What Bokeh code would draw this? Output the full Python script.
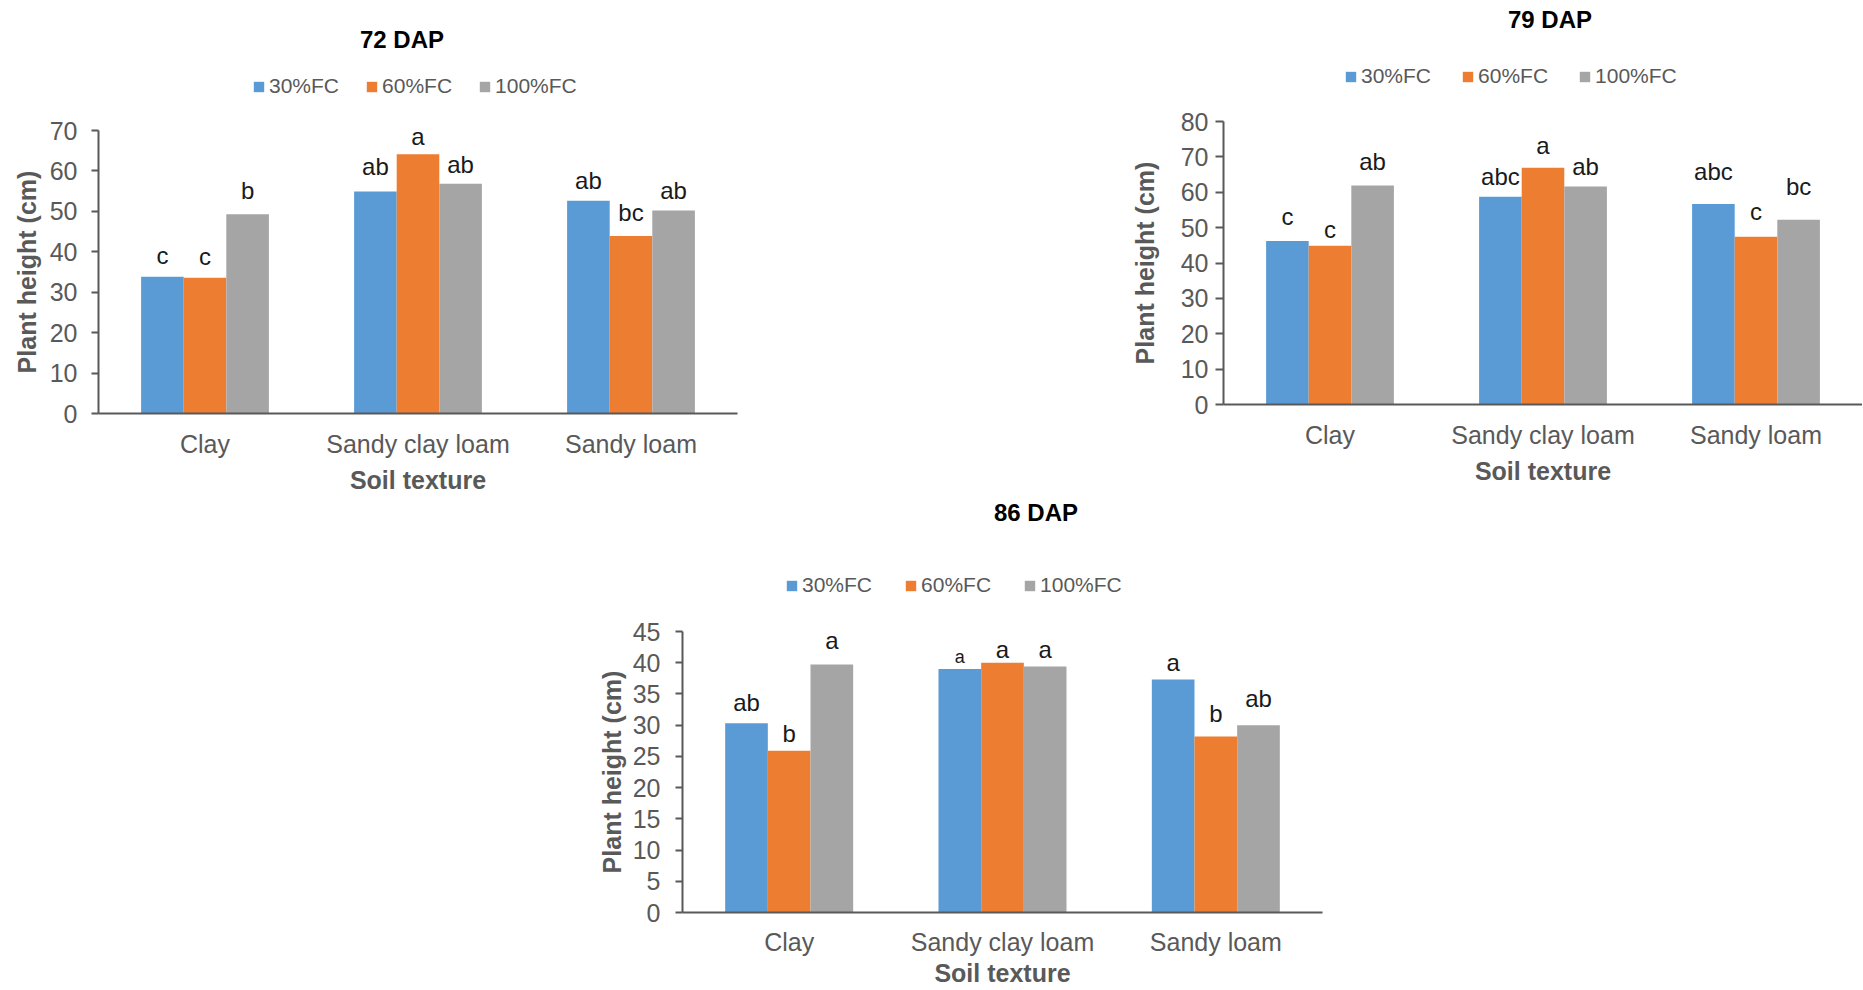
from bokeh.plotting import figure
from bokeh.models import (ColumnDataSource, FactorRange, Range1d, FixedTicker, Legend,
                          LegendItem, LabelSet, Label, Spacer)
from bokeh.core.properties import value
from bokeh.transform import dodge
from bokeh.layouts import row, column
from bokeh.embed import file_html
from bokeh.resources import INLINE

# ---------------- data ----------------
categories = ["Clay", "Sandy clay loam", "Sandy loam"]
treatments = ["30%FC", "60%FC", "100%FC"]

# 72 DAP
dap72_fc30 = [33.8, 54.9, 52.6]
dap72_fc60 = [33.6, 64.1, 43.9]
dap72_fc100 = [49.3, 56.8, 50.2]
dap72_let30 = ["c", "ab", "ab"]
dap72_let60 = ["c", "a", "bc"]
dap72_let100 = ["b", "ab", "ab"]

# 79 DAP
dap79_fc30 = [46.2, 58.7, 56.7]
dap79_fc60 = [44.9, 66.9, 47.4]
dap79_fc100 = [61.9, 61.6, 52.2]
dap79_let30 = ["c", "abc", "abc"]
dap79_let60 = ["c", "a", "c"]
dap79_let100 = ["ab", "ab", "bc"]

# 86 DAP
dap86_fc30 = [30.3, 39.0, 37.3]
dap86_fc60 = [25.9, 40.0, 28.2]
dap86_fc100 = [39.7, 39.4, 30.0]
dap86_let30 = ["ab", "a", "a"]
dap86_let60 = ["b", "a", "b"]
dap86_let100 = ["a", "a", "ab"]

# ---------------- style ----------------
COLORS = ["#5B9BD5", "#ED7D31", "#A5A5A5"]
FONT = "Liberation Sans"
AXIS_GRAY = "#595959"
BAR_W = 0.2

# pixel gap between bar top and letter baseline (per treatment, per category)
GAP72 = [[13, 17, 12], [13, 9, 15], [15, 11, 12]]
GAP79 = [[16, 12, 24], [8, 14, 17], [16, 12, 25]]
GAP86 = [[12, 6, 9], [9, 5, 14], [16, 8, 18]]
# letter font sizes (the reference shows one smaller letter in the 86 DAP chart)
SIZE_DEFAULT = [["24px"] * 3] * 3
SIZE86 = [["24px", "18px", "24px"], ["24px"] * 3, ["24px"] * 3]


def make_header(title, cfg):
    w, h = cfg["hw"], cfg["hh"]
    hp = figure(width=w, height=h, x_range=Range1d(0, w), y_range=Range1d(0, h),
                x_axis_type=None, y_axis_type=None, min_border=0,
                output_backend="svg", toolbar_location=None, tools="")
    hp.frame_align = False
    hp.outline_line_color = None
    hp.xgrid.visible = False
    hp.ygrid.visible = False
    items = []
    for j, t in enumerate(treatments):
        # zero-size proxy glyph: only used to draw the legend swatch
        r = hp.vbar(x=[0], top=[0], width=0, fill_color=COLORS[j], line_color=None)
        items.append(LegendItem(label=t, renderers=[r]))
    leg = Legend(items=items, orientation="horizontal", location=cfg["leg_loc"],
                 glyph_width=13, glyph_height=13, label_standoff=4, label_height=20,
                 spacing=cfg["leg_sp"], padding=0, margin=0,
                 label_text_font=FONT, label_text_font_size="21px",
                 label_text_color=AXIS_GRAY, background_fill_alpha=0,
                 border_line_alpha=0)
    hp.add_layout(leg, "center")
    tx, ty = cfg["title_xy"]
    hp.add_layout(Label(x=tx, y=ty, text=title, text_align="center",
                        text_baseline="middle", text_font=FONT, text_font_style="bold",
                        text_font_size="24px", text_color="#000000"))
    return hp


def make_chart(series, letters, ymax, ystep, gaps, sizes, cfg):
    p = figure(x_range=FactorRange(factors=categories, range_padding=0),
               y_range=Range1d(0, ymax),
               frame_width=cfg["fw"], frame_height=cfg["fh"],
               min_border_left=cfg["bl"], min_border_right=cfg["br"],
               min_border_top=cfg["bt"], min_border_bottom=cfg["bb"],
               output_backend="svg", toolbar_location=None, tools="")
    p.frame_align = False
    p.outline_line_color = None
    p.background_fill_color = "white"
    p.border_fill_color = "white"
    p.xgrid.visible = False
    p.ygrid.visible = False

    n = len(treatments)
    for j, t in enumerate(treatments):
        off = (j - (n - 1) / 2) * BAR_W
        src = ColumnDataSource(dict(cat=categories, val=series[j], lab=letters[j],
                                    gap=gaps[j], fs=sizes[j]))
        p.vbar(x=dodge("cat", off, range=p.x_range), top="val", width=BAR_W,
               source=src, fill_color=COLORS[j], line_color=None)
        ls = LabelSet(x=dodge("cat", off, range=p.x_range), y="val", text="lab",
                      source=src, text_align="center", text_baseline="alphabetic",
                      y_offset="gap", text_font=value(FONT),
                      text_font_size="fs", text_color="#1a1a1a",
                      level="overlay")
        p.add_layout(ls)

    xa = p.xaxis[0]
    xa.axis_label = "Soil texture"
    xa.axis_label_text_font = FONT
    xa.axis_label_text_font_style = "bold"
    xa.axis_label_text_font_size = "25px"
    xa.axis_label_text_color = AXIS_GRAY
    xa.axis_label_standoff = cfg["xal_so"]
    xa.major_label_text_font = FONT
    xa.major_label_text_font_size = "25px"
    xa.major_label_text_color = AXIS_GRAY
    xa.major_label_standoff = cfg["xml_so"]
    xa.major_tick_line_color = None
    xa.minor_tick_line_color = None
    xa.axis_line_color = AXIS_GRAY
    xa.axis_line_width = 2

    ya = p.yaxis[0]
    ya.ticker = FixedTicker(ticks=list(range(0, ymax + 1, ystep)))
    ya.axis_label = "Plant height (cm)"
    ya.axis_label_text_font = FONT
    ya.axis_label_text_font_style = "bold"
    ya.axis_label_text_font_size = "25px"
    ya.axis_label_text_color = AXIS_GRAY
    ya.axis_label_standoff = cfg["yal_so"]
    ya.major_label_text_font = FONT
    ya.major_label_text_font_size = "25px"
    ya.major_label_text_color = AXIS_GRAY
    ya.major_label_standoff = cfg["yml_so"]
    ya.major_tick_out = cfg["tick"]
    ya.major_tick_in = 0
    ya.major_tick_line_color = AXIS_GRAY
    ya.major_tick_line_width = 2
    ya.minor_tick_line_color = None
    ya.axis_line_color = AXIS_GRAY
    ya.axis_line_width = 2
    return p


# chart 1 : 72 DAP
h1 = make_header("72 DAP", dict(hw=747, hh=110, leg_loc=(252, 12), leg_sp=26,
                                title_xy=(401.5, 71)))
p1 = make_chart([dap72_fc30, dap72_fc60, dap72_fc100],
                [dap72_let30, dap72_let60, dap72_let100], 70, 10, GAP72, SIZE_DEFAULT,
                dict(fw=639, fh=283, bl=98, br=10, bt=20, bb=85,
                     xal_so=5, xml_so=10, yal_so=6, yml_so=14, tick=7))

# chart 2 : 79 DAP
h2 = make_header("79 DAP", dict(hw=752, hh=101, leg_loc=(234, 13), leg_sp=30,
                                title_xy=(439.5, 82)))
p2 = make_chart([dap79_fc30, dap79_fc60, dap79_fc100],
                [dap79_let30, dap79_let60, dap79_let100], 80, 10, GAP79, SIZE_DEFAULT,
                dict(fw=639, fh=283, bl=113, br=0, bt=20, bb=94,
                     xal_so=5, xml_so=10, yal_so=19, yml_so=7, tick=8))

# chart 3 : 86 DAP
h3 = make_header("86 DAP", dict(hw=742, hh=113, leg_loc=(195, 14), leg_sp=32,
                                title_xy=(445.5, 99)))
p3 = make_chart([dap86_fc30, dap86_fc60, dap86_fc100],
                [dap86_let30, dap86_let60, dap86_let100], 45, 5, GAP86, SIZE86,
                dict(fw=640, fh=281, bl=92, br=10, bt=20, bb=77,
                     xal_so=0, xml_so=9, yal_so=4, yml_so=15, tick=7))

layout = column(
    row(column(h1, p1), Spacer(width=363, height=498), column(h2, p2)),
    row(Spacer(width=590, height=492), column(h3, p3)),
)

open("out.html", "w").write(file_html(layout, INLINE))
